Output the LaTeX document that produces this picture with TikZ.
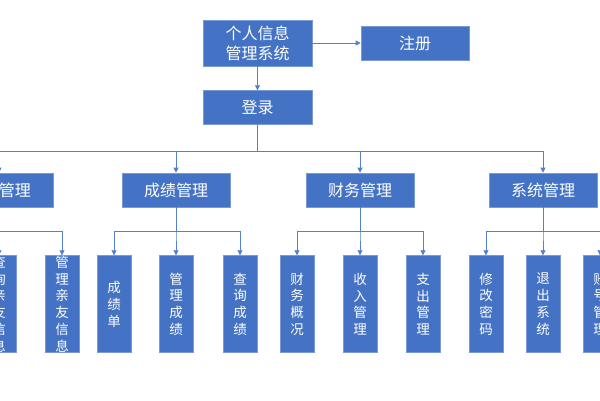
\documentclass[tikz,border=0pt]{standalone}
\usepackage{fontspec}
\newfontfamily\cjk{Noto Sans CJK SC}
\usepackage{tikz}
\usetikzlibrary{arrows.meta,positioning,calc}
\definecolor{BoxBlue}{RGB}{68,114,196}
\definecolor{EdgeBlue}{RGB}{120,155,215}
\definecolor{LineBlue}{RGB}{84,128,204}
\tikzset{
  box/.style={draw=EdgeBlue,line width=0.6pt,fill=BoxBlue,text=white,align=center,inner sep=0pt,
    minimum width=108pt,minimum height=34pt,font=\cjk\fontsize{16}{20}\selectfont},
  leaf/.style={box,minimum width=34pt,minimum height=97pt,font=\cjk\fontsize{13.5}{16.8}\selectfont},
  arr/.style={-{Triangle[length=5pt,width=5pt]},draw=LineBlue,line width=0.8pt},
  wire/.style={draw=LineBlue,line width=0.8pt},
}
\begin{document}
\begin{tikzpicture}[x=1pt,y=-1pt]
  \useasboundingbox (0,0) rectangle (600,400);
  \clip (0,0) rectangle (600,400);
  % --- top ---
  \node[box, minimum width=109pt, minimum height=46pt] (sys) at (257.5,43) {个人信息\\管理系统};
  \node[box] (reg) at (415,43) {注册};
  \node[box, minimum width=109pt, below=24pt of sys] (login) {登录};

  \draw[arr] (sys) -- (reg);
  \draw[arr] (sys) -- (login);

  % --- modules ---
  \node[box] (qy) at (-1,190) {亲友管理};
  \node[box] (cj) at (176,190) {成绩管理};
  \node[box] (cw) at (360,190) {财务管理};
  \node[box] (xt) at (543,190) {系统管理};

  \draw[arr] (login.south) -- ++(0,26) -| (qy.north);
  \draw[arr] (login.south) -- ++(0,26) -| (cj.north);
  \draw[arr] (login.south) -- ++(0,26) -| (cw.north);
  \draw[arr] (login.south) -- ++(0,26) -| (xt.north);

  % --- leaves ---
  \node[leaf, below=48pt of qy] (qy1) {查\\询\\亲\\友\\信\\息};
  \node[leaf, below=48pt of qy, xshift=63pt] (qy2) {管\\理\\亲\\友\\信\\息};

  \node[leaf, below=48pt of cj, xshift=-62pt] (cj1) {成\\绩\\单};
  \node[leaf, below=48pt of cj] (cj2) {管\\理\\成\\绩};
  \node[leaf, below=48pt of cj, xshift=64pt] (cj3) {查\\询\\成\\绩};

  \node[leaf, below=48pt of cw, xshift=-63pt] (cw1) {财\\务\\概\\况};
  \node[leaf, below=48pt of cw] (cw2) {收\\入\\管\\理};
  \node[leaf, below=48pt of cw, xshift=63pt] (cw3) {支\\出\\管\\理};

  \node[leaf, below=48pt of xt, xshift=-57pt] (xt1) {修\\改\\密\\码};
  \node[leaf, below=48pt of xt] (xt2) {退\\出\\系\\统};
  \node[leaf, below=48pt of xt, xshift=57pt] (xt3) {账\\号\\管\\理};

  \draw[arr] (qy.south) -- ++(0,24) -| (qy1.north);
  \draw[arr] (qy.south) -- ++(0,24) -| (qy2.north);
  \draw[arr] (cj.south) -- ++(0,24) -| (cj1.north);
  \draw[arr] (cj.south) -- ++(0,24) -| (cj2.north);
  \draw[arr] (cj.south) -- ++(0,24) -| (cj3.north);
  \draw[arr] (cw.south) -- ++(0,24) -| (cw1.north);
  \draw[arr] (cw.south) -- ++(0,24) -| (cw2.north);
  \draw[arr] (cw.south) -- ++(0,24) -| (cw3.north);
  \draw[arr] (xt.south) -- ++(0,24) -| (xt1.north);
  \draw[arr] (xt.south) -- ++(0,24) -| (xt2.north);
  \draw[arr] (xt.south) -- ++(0,24) -| (xt3.north);
\end{tikzpicture}
\end{document}
